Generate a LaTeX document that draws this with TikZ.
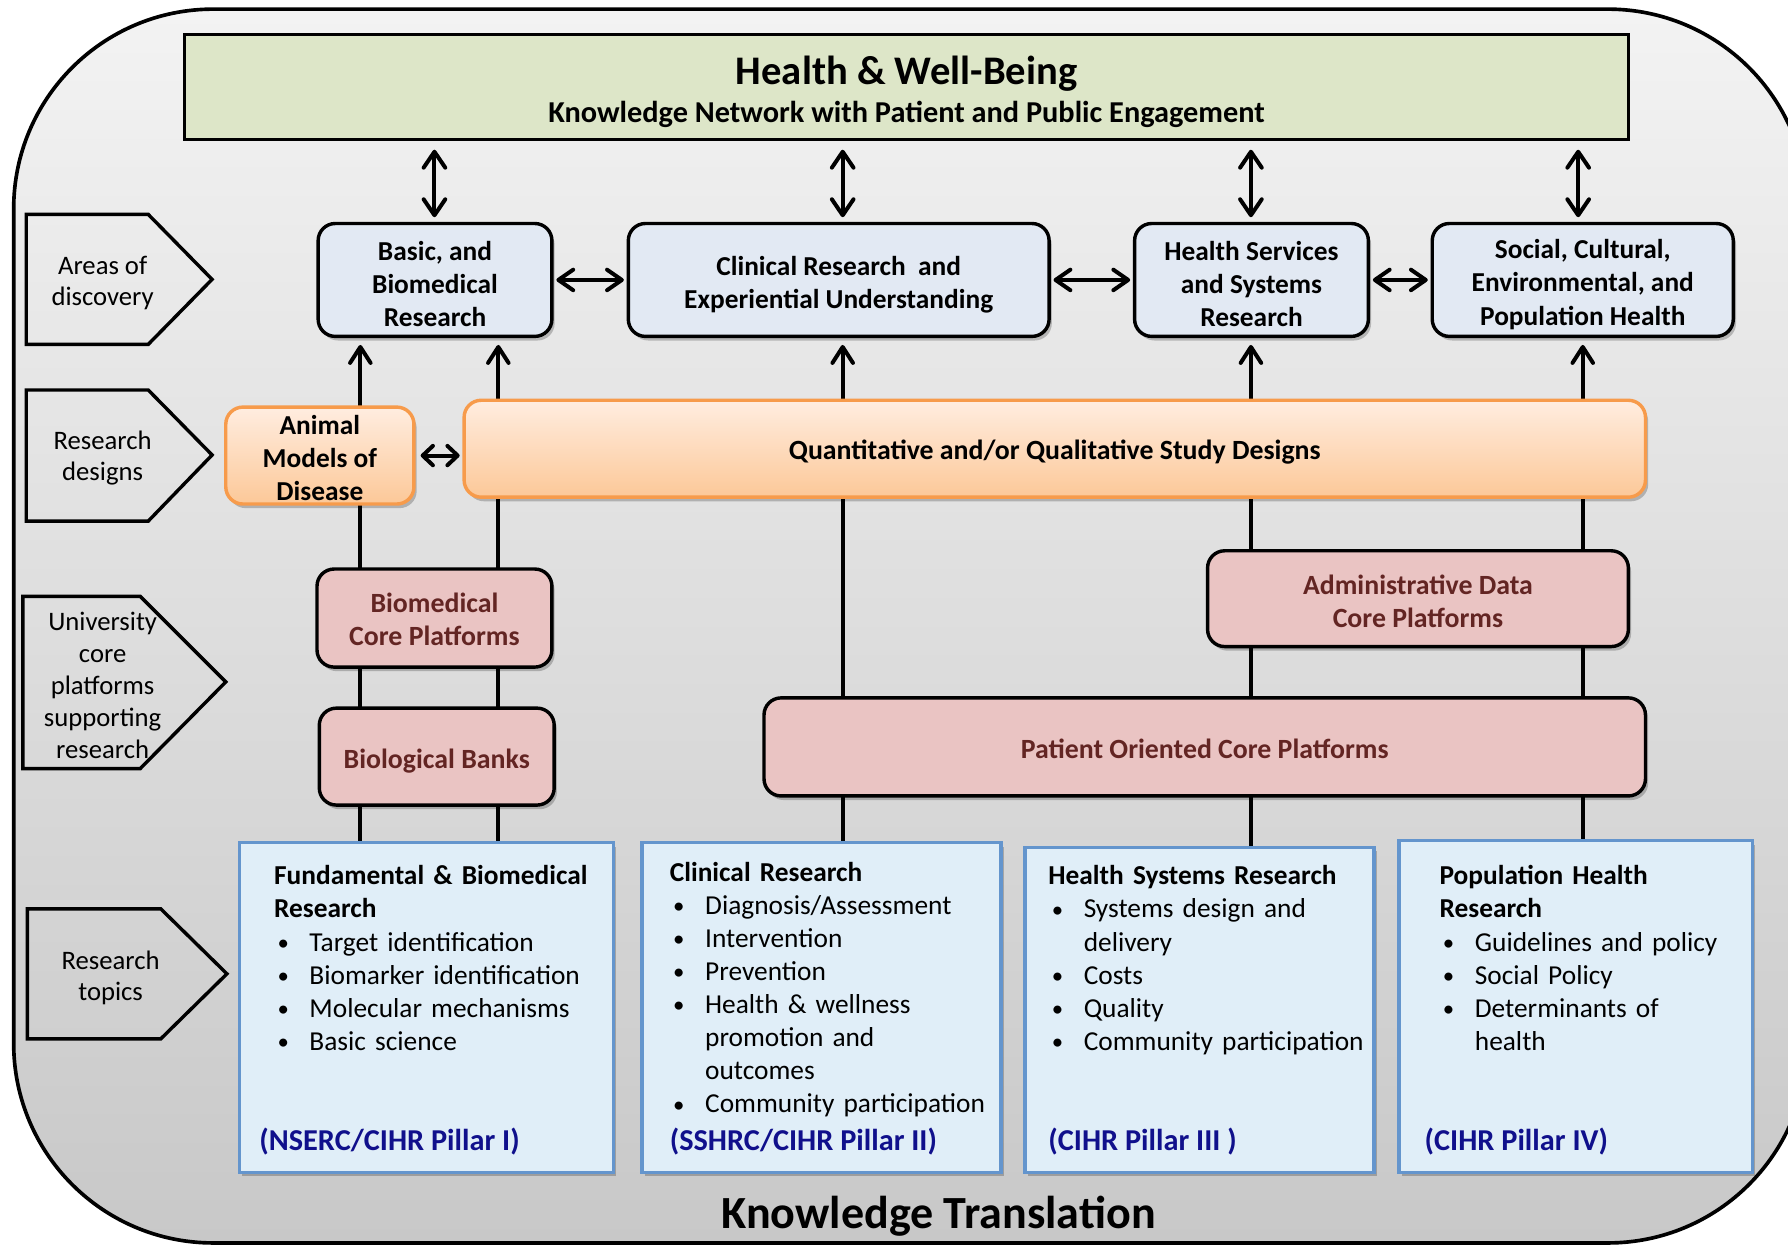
\documentclass[tikz,border=0pt]{standalone}
\usepackage{fontspec}
\setmainfont{Carlito}
\usetikzlibrary{arrows.meta,shadows,calc}
\definecolor{bgtop}{RGB}{243,243,243}
\definecolor{bgbot}{RGB}{200,200,200}
\definecolor{hwgreen}{RGB}{221,230,200}
\definecolor{areablue}{RGB}{226,233,243}
\definecolor{ortop}{RGB}{255,237,224}
\definecolor{orbot}{RGB}{252,200,152}
\definecolor{orline}{RGB}{247,155,75}
\definecolor{pinkbox}{RGB}{234,196,195}
\definecolor{pinktext}{RGB}{99,37,35}
\definecolor{topicfill}{RGB}{224,238,248}
\definecolor{topicline}{RGB}{100,149,205}
\definecolor{navytext}{RGB}{16,16,140}
\pgfdeclarelayer{back}
\pgfdeclarelayer{conn}
\pgfsetlayers{back,conn,main}
\newcommand{\bitem}[1]{\par\noindent\hbox to 15.5pt{\hspace{1.5pt}{\fontsize{10}{10}\selectfont\raisebox{0.4pt}{\textbullet}}\hfil}#1}
\newcommand{\bcont}[1]{\par\noindent\hspace*{15.5pt}#1}
\newcommand{\bhead}[1]{\noindent\textbf{#1}}
\tikzset{
  shad/.style={drop shadow={shadow xshift=1.2pt,shadow yshift=-1.8pt,fill=black,opacity=0.22}},
  areabox/.style={draw=black,line width=1.5pt,rounded corners=7.5pt,fill=areablue,shad,
     minimum height=49.5pt,inner sep=0pt},
  orbox/.style={draw=orline,line width=1.5pt,rounded corners=7.5pt,top color=ortop,bottom color=orbot,shad,
     minimum height=42.5pt,inner sep=0pt},
  pinkbx/.style={draw=black,line width=1.5pt,rounded corners=7.5pt,fill=pinkbox,shad,
     minimum height=43pt,inner sep=0pt},
  boxtext/.style={inner sep=0pt,align=center,font=\fontsize{12}{14.5}\selectfont\bfseries},
  pinktxt/.style={boxtext,text=pinktext,font=\fontsize{12.2}{14.5}\selectfont\bfseries},
  topicbox/.style={draw=topicline,line width=1.5pt,fill=topicfill,shad,inner sep=0pt},
  topictext/.style={anchor=base west,inner sep=0pt,text width=170pt,align=left,
     font=\fontsize{12}{14.5}\selectfont},
  pillar/.style={anchor=base west,inner sep=0pt,text=navytext,font=\fontsize{13.3}{15}\selectfont\bfseries},
  chev/.style={draw=black,line width=1.5pt},
  chevtext/.style={align=center,inner sep=0pt,font=\fontsize{11.7}{13.5}\selectfont},
  conn/.style={line width=1.75pt},
  barb/.style={Straight Barb[length=7pt,width=9.5pt,line width=1.75pt,round]},
  sbarb/.style={Straight Barb[length=4.5pt,width=8.5pt,line width=1.75pt,round]},
  biarrow/.style={conn,{Straight Barb[length=7pt,width=9.5pt,line width=1.75pt,round]}-{Straight Barb[length=7pt,width=9.5pt,line width=1.75pt,round]}},
  harrow/.style={conn,{Straight Barb[length=6.5pt,width=9pt,line width=1.75pt,round]}-{Straight Barb[length=6.5pt,width=9pt,line width=1.75pt,round]}},
  uparrow/.style={conn,-{Straight Barb[length=7pt,width=9pt,line width=1.75pt,round]}},
  smallbi/.style={conn,{Straight Barb[length=4.5pt,width=8.5pt,line width=1.75pt,round]}-{Straight Barb[length=4.5pt,width=8.5pt,line width=1.75pt,round]}},
}
\begin{document}
\begin{tikzpicture}[x=0.5pt,y=-0.5pt]
\useasboundingbox (0,0) rectangle (1568,1093);
% outer background
\begin{pgfonlayer}{back}
\begin{scope}
\clip (0,0) rectangle (1568,1093);
\path[draw=black,line width=1.6pt,rounded corners=87.5pt,top color=bgtop,bottom color=bgbot]
  (12,8) rectangle (1585,1090);
\end{scope}
\end{pgfonlayer}

% top box
\node[draw=black,line width=1.3pt,fill=hwgreen,minimum width=633pt,minimum height=46pt,inner sep=0pt] (hw) at (795,76) {};
\node[inner sep=0pt,font=\fontsize{17.8}{20}\selectfont\bfseries] (hwt) at (795,64.5) {Health \& Well-Being};
\node[inner sep=0pt,font=\fontsize{13.3}{15}\selectfont\bfseries] (hws) at (795,100) {Knowledge Network with Patient and Public Engagement};

% areas of discovery
\node[areabox,minimum width=102.5pt] (basic) at (381.5,245.5) {};
\node[boxtext,yshift=-1.7pt] (basict) at (basic.center) {Basic, and\\Biomedical\\Research};
\node[areabox,minimum width=184.5pt] (clin) at (735.5,245.5) {};
\node[boxtext,yshift=-2pt] (clint) at (clin.center) {Clinical Research\ \ and\\Experiential Understanding};
\node[areabox,minimum width=102.5pt] (hsr) at (1097.5,245.5) {};
\node[boxtext,yshift=-1.7pt] (hsrt) at (hsr.center) {Health Services\\and Systems\\Research};
\node[areabox,minimum width=132pt] (soc) at (1388,245.5) {};
\node[boxtext,yshift=-2pt] (soct) at (soc.center) {Social, Cultural,\\Environmental, and\\Population Health};

% research designs
\node[orbox,minimum width=82.5pt] (animal) at (280.5,399.5) {};
\node[boxtext,yshift=-1pt] (animalt) at (animal.center) {Animal\\Models of\\Disease};
\node[orbox,minimum width=518pt] (quant) at (925,393.5) {};
\node[boxtext,font=\fontsize{12.2}{14.5}\selectfont\bfseries,yshift=-1.5pt] (quantt) at (quant.center) {Quantitative and/or Qualitative Study Designs};

% core platforms
\node[pinkbx,minimum width=103pt] (bcp) at (381,542) {};
\node[pinktxt,yshift=-0.5pt] (bcpt) at (bcp.center) {Biomedical\\Core Platforms};
\node[pinkbx,minimum width=103pt,minimum height=42.5pt] (bb) at (383,663.5) {};
\node[pinktxt,yshift=-2pt] (bbt) at (bb.center) {Biological Banks};
\node[pinkbx,minimum width=184.5pt,minimum height=42pt] (adcp) at (1243.5,525) {};
\node[pinktxt,yshift=-1pt] (adcpt) at (adcp.center) {Administrative Data\\Core Platforms};
\node[pinkbx,minimum width=386.5pt] (pocp) at (1056.5,655) {};
\node[pinktxt,yshift=-1pt] (pocpt) at (pocp.center) {Patient Oriented Core Platforms};

% research topics
\node[topicbox,minimum width=164pt,minimum height=144.5pt] (fund) at (374,883.5) {};
\node[topicbox,minimum width=157.5pt,minimum height=144.5pt] (crb) at (720.5,883.5) {};
\node[topicbox,minimum width=153pt,minimum height=142.5pt] (hsb) at (1052,885.5) {};
\node[topicbox,minimum width=155pt,minimum height=145.5pt] (phb) at (1382,882.5) {};

\node[topictext] (fundt) at (240,776) {\bhead{Fundamental \& Biomedical}\par\bhead{Research}%
  \bitem{Target identification}%
  \bitem{Biomarker identification}%
  \bitem{Molecular mechanisms}%
  \bitem{Basic science}};
\node[topictext] (crbt) at (587,773) {\bhead{Clinical Research}%
  \bitem{Diagnosis/Assessment}%
  \bitem{Intervention}%
  \bitem{Prevention}%
  \bitem{Health \& wellness}%
  \bcont{promotion and}%
  \bcont{outcomes}%
  \bitem{Community participation}};
\node[topictext] (hsbt) at (919,776) {\bhead{Health Systems Research}%
  \bitem{Systems design and}%
  \bcont{delivery}%
  \bitem{Costs}%
  \bitem{Quality}%
  \bitem{Community participation}};
\node[topictext] (phbt) at (1262,776) {\bhead{Population Health}\par\bhead{Research}%
  \bitem{Guidelines and policy}%
  \bitem{Social Policy}%
  \bitem{Determinants of}%
  \bcont{health}};
\node[pillar] (p1) at (227,1009) {(NSERC/CIHR Pillar I)};
\node[pillar] (p2) at (587,1009) {(SSHRC/CIHR Pillar II)};
\node[pillar] (p3) at (919,1009) {(CIHR Pillar III )};
\node[pillar] (p4) at (1249,1009) {(CIHR Pillar IV)};

\node[inner sep=0pt,font=\fontsize{20.2}{24}\selectfont\bfseries] (kt) at (823,1066.5) {Knowledge Translation};

% chevrons
\draw[chev] (23,188) -- (130,188) -- (186,245) -- (130,302) -- (23,302) -- cycle;
\node[chevtext] (ch1) at (90,248) {Areas of\\discovery};
\draw[chev] (23,342) -- (130,342) -- (186,399) -- (130,457) -- (23,457) -- cycle;
\node[chevtext] (ch2) at (90,402) {Research\\designs};
\draw[chev] (20,523) -- (123,523) -- (198,598) -- (123,674) -- (20,674) -- cycle;
\node[chevtext,font=\fontsize{11.7}{14}\selectfont] (ch3) at (90,601) {University\\core\\platforms\\supporting\\research};
\draw[chev] (24,797) -- (141,797) -- (199,854) -- (141,911) -- (24,911) -- cycle;
\node[chevtext] (ch4) at (97,857.5) {Research\\topics};

% connector x positions
\coordinate (L1) at (316,0);
\coordinate (L2) at (437,0);
\coordinate (L3) at (739,0);
\coordinate (L4) at (1097,0);
\coordinate (L5) at (1388,0);
\coordinate (T1) at (381,0);
\coordinate (T4) at (1384,0);

\begin{pgfonlayer}{conn}
\draw[uparrow,shorten >=3pt] (fund.north -| L1) -- (basic.south -| L1);
\draw[uparrow,shorten >=3pt] (fund.north -| L2) -- (basic.south -| L2);
\draw[uparrow,shorten >=3pt] (crb.north -| L3) -- (clin.south -| L3);
\draw[uparrow,shorten >=3pt] (hsb.north -| L4) -- (hsr.south -| L4);
\draw[uparrow,shorten >=3pt] (phb.north -| L5) -- (soc.south -| L5);
\end{pgfonlayer}

\draw[biarrow,shorten <=4pt,shorten >=2pt] (hw.south -| T1) -- (basic.north -| T1);
\draw[biarrow,shorten <=4pt,shorten >=2pt] (hw.south -| L3) -- (clin.north -| L3);
\draw[biarrow,shorten <=4pt,shorten >=2pt] (hw.south -| L4) -- (hsr.north -| L4);
\draw[biarrow,shorten <=4pt,shorten >=2pt] (hw.south -| T4) -- (soc.north -| T4);

\draw[harrow,shorten <=1.2pt,shorten >=1.2pt] (basic.east) -- (clin.west);
\draw[harrow,shorten <=1.2pt,shorten >=1.2pt] (clin.east) -- (hsr.west);
\draw[harrow,shorten <=1.2pt,shorten >=1.2pt] (hsr.east) -- (soc.west);
\draw[smallbi,shorten <=2.2pt,shorten >=1.2pt] (animal.east) -- (animal.east -| quant.west);
\end{tikzpicture}
\end{document}
